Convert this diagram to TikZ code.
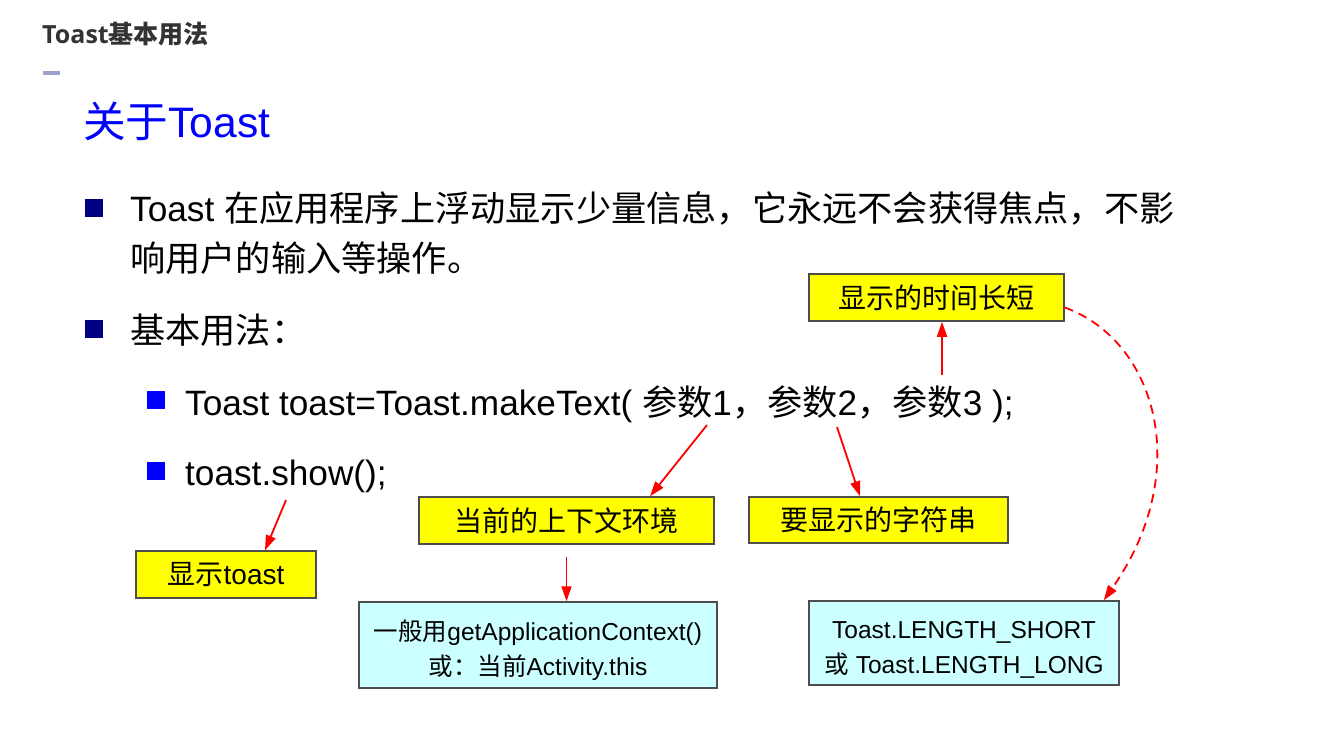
\documentclass[tikz,border=0pt]{standalone}
\usepackage{fontspec}
\setmainfont{Liberation Sans}
\newfontfamily\cjk{Noto Sans CJK SC}
\newfontfamily\headfont{Open Sans}
\usepackage{xcolor}
\usetikzlibrary{arrows.meta, positioning}

\definecolor{boxyellow}{HTML}{FFFF00}
\definecolor{boxcyan}{HTML}{CCFFFF}
\definecolor{bulletnavy}{HTML}{000080}
\definecolor{bulletblue}{HTML}{0000FF}
\definecolor{headgray}{HTML}{333333}
\definecolor{barlavender}{HTML}{A0A0D0}
\definecolor{boxborder}{HTML}{4D4D4D}

\newcommand\zh[1]{{\cjk #1}}
\newcommand\fsz[2]{\fontsize{#1}{#2}\selectfont}

\begin{document}
\begin{tikzpicture}[
    x=1pt, y=-1pt,
    text line/.style={anchor=base west, inner sep=0pt, font=\fsz{35.2}{40}},
    main bullet/.style={rectangle, fill=bulletnavy, minimum size=18pt, inner sep=0pt},
    sub bullet/.style={rectangle, fill=bulletblue, minimum size=18pt, inner sep=0pt},
    note box/.style={rectangle, draw=boxborder, line width=1.5pt, fill=boxyellow, inner sep=0pt, font=\fsz{28}{34}},
    hint box/.style={rectangle, draw=boxborder, line width=1.5pt, fill=boxcyan, inner sep=0pt, align=center, font=\fsz{24.5}{35}},
    red arrow/.style={draw=red, line width=1.8pt, -{Triangle[length=15pt, width=10pt]}}
]
    \useasboundingbox (0,0) rectangle (1332,731);

    % Heading
    \node[anchor=base west, inner sep=0pt, text=headgray, font=\fsz{25}{30}\bfseries] (head) at (42,43)
        {{\headfont Toast}{\cjk 基本用法}};
    \fill[barlavender] (43,71) rectangle (60,75);
    \node[anchor=base west, inner sep=0pt, text=bulletblue, font=\fsz{42.6}{48}] (title) at (83,137)
        {\zh{关于}Toast};

    % Bullets
    \node[main bullet] (b1) at (94,208) {};
    \node[text line] (line1) at (130,221) {Toast \zh{在应用程序上浮动显示少量信息，它永远不会获得焦点，不影}};
    \node[text line] (line2) at (130,271) {\zh{响用户的输入等操作。}};
    \node[main bullet] (b2) at (94,329) {};
    \node[text line] (line3) at (130,343) {\zh{基本用法：}};
    \node[sub bullet] (s1) at (156,400) {};
    \node[text line] (code1) at (185,415) {Toast toast=Toast.makeText( \zh{参数}1\zh{，参数}2\zh{，参数}3 );};
    \node[sub bullet] (s2) at (156,471) {};
    \node[text line] (code2) at (185,485) {toast.show();};

    % Notes
    \node[note box, minimum width=255pt, minimum height=47pt] (time) at (936.5,297.5) {\zh{显示的时间长短}};
    \node[note box, minimum width=295pt, minimum height=47pt] (ctx) at (566.5,520.5) {\zh{当前的上下文环境}};
    \node[note box, minimum width=259pt, minimum height=46pt] (str) at (878.5,520) {\zh{要显示的字符串}};
    \node[note box, minimum width=180pt, minimum height=47pt] (show) at (226,574.5) {\zh{显示}toast};
    \node[hint box, minimum width=358pt, minimum height=86pt] (app) at (538,645)
        {\rule{0pt}{32pt}\zh{一般用}getApplicationContext()\\\zh{或：当前}Activity.this};
    \node[hint box, minimum width=310pt, minimum height=84pt] (len) at (964,643)
        {\rule{0pt}{30pt}Toast.LENGTH\_SHORT\\\zh{或} Toast.LENGTH\_LONG};

    % Arrow tails
    \coordinate (p1) at (707,425);
    \coordinate (p2) at (837,427);
    \coordinate (p3) at (942,375);
    \coordinate (p4) at (286,500);

    % Edges
    \draw[red arrow] (p1) -- (ctx.north -| 650,0);
    \draw[red arrow] (p2) -- (str.north -| 860,0);
    \draw[red arrow] (p3) -- (time.south -| p3);
    \draw[red arrow] (p4) -- (show.north -| 265,0);
    \draw[red arrow] ([yshift=-12pt]ctx.south) -- (app.north -| ctx.south);
    \draw[red arrow, dash pattern=on 9pt off 6pt] ([yshift=-10pt]time.east)
        .. controls (1155,340) and (1195,470) .. ([xshift=-16pt]len.north east);
\end{tikzpicture}
\end{document}
